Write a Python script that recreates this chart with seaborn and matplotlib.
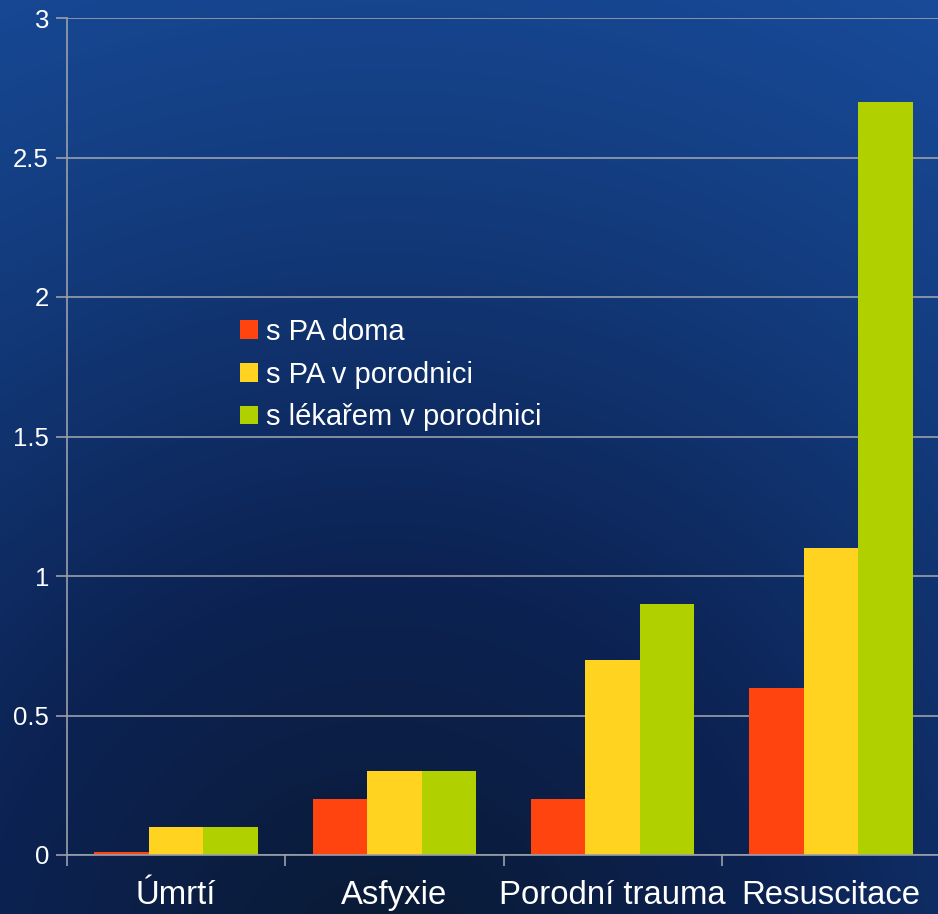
import numpy as np
import pandas as pd
import matplotlib
matplotlib.use("Agg")
import matplotlib.pyplot as plt
import seaborn as sns
from matplotlib.patches import Patch
from matplotlib.colors import LinearSegmentedColormap

categories = ["Úmrtí", "Asfyxie", "Porodní trauma", "Resuscitace"]
series_names = ["s PA doma", "s PA v porodnici", "s lékařem v porodnici"]
s_pa_doma = [0.01, 0.2, 0.2, 0.6]
s_pa_porodnice = [0.1, 0.3, 0.7, 1.1]
s_lekar_porodnice = [0.1, 0.3, 0.9, 2.7]
colors = ["#ff4410", "#ffd320", "#b0d000"]
y_ticks = [0, 0.5, 1, 1.5, 2, 2.5, 3]
y_tick_labels = ["0", "0.5", "1", "1.5", "2", "2.5", "3"]

rows = []
for name, vals in zip(series_names, [s_pa_doma, s_pa_porodnice, s_lekar_porodnice]):
    for c, v in zip(categories, vals):
        rows.append({"kategorie": c, "skupina": name, "hodnota": v})
df = pd.DataFrame(rows)

sns.set_theme(style="white")
plt.rcParams["font.family"] = ["Liberation Sans", "DejaVu Sans"]

W, H = 938, 914
fig = plt.figure(figsize=(W / 100, H / 100), dpi=100)

# background radial gradient
bg = fig.add_axes([0, 0, 1, 1], zorder=0)
yy, xx = np.mgrid[0:H, 0:W]
cx, cy = 380, 980
r = np.sqrt((xx - cx) ** 2 + ((yy - cy) * 1.0) ** 2)
t = np.clip(r / 1150, 0, 1)
cmap = LinearSegmentedColormap.from_list(
    "bg", [(0.0, "#0a1a33"), (0.35, "#0c2252"), (0.7, "#133c7e"), (1.0, "#194c9c")])
bg.imshow(t, cmap=cmap, vmin=0, vmax=1, aspect="auto", extent=[0, W, H, 0])
bg.axis("off")

ax = fig.add_axes([67 / W, 59 / H, (940 - 67) / W, (855 - 18) / H], zorder=1)
ax.patch.set_alpha(0)

sns.barplot(data=df, x="kategorie", y="hodnota", hue="skupina", palette=colors,
            width=0.75, saturation=1, ax=ax, legend=False, zorder=3,
            edgecolor="none", linewidth=0)

ax.set_xlim(-0.5, 3.5)
ax.set_ylim(0, 3)
ax.set_yticks(y_ticks)
ax.set_yticklabels(y_tick_labels)
ax.set_xticks(range(len(categories)))
ax.set_xticklabels(categories)
ax.set_xticks(np.arange(-0.5, 4.0, 1.0), minor=True)
ax.set_xlabel("")
ax.set_ylabel("")

grid_col = "#9aa0ab"
ax.yaxis.grid(True, color=grid_col, linewidth=1.2, zorder=1)
ax.xaxis.grid(False)
ax.set_axisbelow(True)

for s in ["top", "right"]:
    ax.spines[s].set_visible(False)
for s in ["left", "bottom"]:
    ax.spines[s].set_visible(True)
    ax.spines[s].set_color(grid_col)
    ax.spines[s].set_linewidth(1.2)
    ax.spines[s].set_zorder(4)

ax.tick_params(axis="y", which="major", left=True, length=8, width=1.2, color=grid_col,
               labelcolor="white", labelsize=18.5, pad=5)
ax.tick_params(axis="x", which="major", bottom=False, length=0, labelcolor="white",
               labelsize=23.7, pad=18)
ax.tick_params(axis="x", which="minor", bottom=True, length=8, width=1.2, color=grid_col)

handles = [Patch(facecolor=c, edgecolor="none") for c in colors]
fig.legend(handles, series_names, loc="upper left",
           bbox_to_anchor=(240 / W, 1 - 318 / H), frameon=False,
           fontsize=21, labelcolor="white", handlelength=0.6, handleheight=0.6,
           handletextpad=0.3, labelspacing=0.5, borderpad=0, borderaxespad=0)

fig.savefig("out.png", dpi=100)
